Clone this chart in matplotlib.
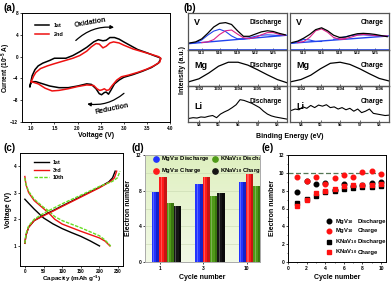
import numpy as np
import matplotlib
matplotlib.use("Agg")
import matplotlib.pyplot as plt
from matplotlib.patches import FancyArrowPatch

plt.rcParams['font.family'] = ['Liberation Sans', 'DejaVu Sans']
plt.rcParams['font.weight'] = 'bold'
plt.rcParams['axes.labelweight'] = 'bold'
plt.rcParams['axes.linewidth'] = 0.7
plt.rcParams['mathtext.default'] = 'regular'

# ---- (a) cyclic voltammetry ----
cv1_v = [0.97, 1.02, 1.08, 1.15, 1.25, 1.4, 1.5, 1.6, 1.75, 1.9, 2.05, 2.2, 2.35, 2.45, 2.55,
         2.62, 2.7, 2.8, 2.9, 3.0, 3.15, 3.3, 3.5, 3.65, 3.78, 3.8,
         3.75, 3.6, 3.4, 3.2, 3.0, 2.9, 2.8, 2.72, 2.67, 2.62, 2.58, 2.52, 2.47, 2.4, 2.3,
         2.2, 2.0, 1.8, 1.6, 1.4, 1.25, 1.1, 1.0, 0.97]
cv1_i = [-5.5, -3.5, -2.4, -1.7, -1.2, -0.7, -0.3, -0.3, -0.3, 0.2, 0.9, 1.7, 2.7, 3.1, 2.9,
         3.0, 3.5, 3.5, 3.2, 2.7, 2.0, 1.3, 0.7, 0.2, -0.2, -0.4,
         -1.2, -2.0, -2.7, -3.3, -3.8, -4.3, -5.0, -6.2, -6.9, -6.5, -6.6, -7.0, -6.8, -5.9, -5.1,
         -5.0, -5.4, -5.7, -5.7, -5.4, -5.0, -4.6, -4.6, -5.5]
cv2_v = [1.0, 1.05, 1.1, 1.2, 1.35, 1.5, 1.7, 1.9, 2.05, 2.2, 2.3, 2.4, 2.47, 2.55, 2.62,
         2.7, 2.78, 2.9, 3.0, 3.2, 3.4, 3.6, 3.75, 3.8, 3.78,
         3.65, 3.5, 3.3, 3.1, 2.95, 2.85, 2.75, 2.68, 2.63, 2.58, 2.53, 2.48, 2.42, 2.35,
         2.2, 2.0, 1.8, 1.6, 1.45, 1.3, 1.15, 1.0]
cv2_i = [-4.6, -3.6, -2.9, -2.2, -1.7, -1.3, -0.8, -0.3, 0.2, 1.0, 1.8, 2.4, 2.3, 1.6, 1.9,
         2.5, 2.7, 2.5, 2.1, 1.4, 0.9, 0.4, 0.0, -0.3, -1.0,
         -1.7, -2.3, -2.9, -3.4, -3.7, -4.3, -5.3, -6.1, -6.2, -5.9, -6.1, -6.2, -5.9, -5.3,
         -5.2, -5.5, -5.9, -6.2, -6.3, -5.8, -5.0, -4.6]

# ---- (b) XPS spectra ----
v_x = [511, 512, 513, 514, 515, 516, 517, 518, 519, 520, 521, 522, 523, 524, 525, 526, 527]
v_base_x = [510.7, 527.3]
v_dis_base = [0.17, 0.40]
v_dis_total = [0.19, 0.22, 0.30, 0.45, 0.62, 0.72, 0.74, 0.69, 0.52, 0.37, 0.37, 0.43, 0.49,
               0.52, 0.50, 0.45, 0.41]
v_dis_blue1_x = [511, 512, 513, 514, 515, 516, 517, 518, 519, 520, 521]
v_dis_blue1 = [0.18, 0.20, 0.27, 0.40, 0.51, 0.56, 0.50, 0.38, 0.30, 0.30, 0.31]
v_dis_pink1_x = [513, 514, 515, 516, 517, 518, 519, 520, 521]
v_dis_pink1 = [0.20, 0.22, 0.28, 0.42, 0.52, 0.54, 0.43, 0.33, 0.31]
v_dis_blue2_x = [519, 520, 521, 522, 523, 524, 525, 526, 527]
v_dis_blue2 = [0.29, 0.30, 0.33, 0.37, 0.40, 0.41, 0.40, 0.39, 0.40]
v_dis_pink2_x = [521, 522, 523, 524, 525, 526, 527]
v_dis_pink2 = [0.31, 0.34, 0.41, 0.47, 0.47, 0.42, 0.40]

v_ch_base = [0.18, 0.38]
v_ch_total = [0.20, 0.24, 0.32, 0.42, 0.55, 0.60, 0.52, 0.40, 0.34, 0.35, 0.40, 0.44, 0.45,
              0.44, 0.42, 0.39, 0.36]
v_ch_blue1_x = [511, 512, 513, 514, 515, 516]
v_ch_blue1 = [0.18, 0.22, 0.29, 0.27, 0.23, 0.23]
v_ch_pink1_x = [512, 513, 514, 515, 516, 517, 518, 519, 520]
v_ch_pink1 = [0.20, 0.23, 0.34, 0.52, 0.57, 0.48, 0.34, 0.29, 0.30]
v_ch_blue2_x = [518, 519, 520, 521, 522, 523, 524, 525, 526, 527]
v_ch_blue2 = [0.29, 0.32, 0.36, 0.39, 0.41, 0.41, 0.40, 0.39, 0.38, 0.38]
v_ch_pink2_x = [519, 520, 521, 522, 523, 524, 525, 526, 527]
v_ch_pink2 = [0.29, 0.31, 0.35, 0.40, 0.42, 0.41, 0.39, 0.38, 0.38]

mg_x = [1301.5, 1302.0, 1302.5, 1303.0, 1303.5, 1304.0, 1304.5, 1305.0, 1305.5, 1306.0, 1306.5]
mg_dis = [0.12, 0.20, 0.36, 0.55, 0.66, 0.66, 0.58, 0.45, 0.31, 0.18, 0.09]
mg_ch = [0.12, 0.18, 0.30, 0.48, 0.63, 0.66, 0.60, 0.48, 0.34, 0.21, 0.14]

li_x = [53.5, 53.7, 53.9, 54.1, 54.3, 54.5, 54.7, 54.9, 55.1, 55.3, 55.5, 55.7, 55.9, 56.1,
        56.3, 56.5, 56.7, 56.9, 57.1, 57.3, 57.5, 57.7, 57.9, 58.1, 58.3, 58.5]
li_dis = [0.10, 0.12, 0.11, 0.14, 0.13, 0.16, 0.18, 0.12, 0.22, 0.28, 0.33, 0.40, 0.48, 0.62,
          0.60, 0.56, 0.52, 0.46, 0.40, 0.30, 0.22, 0.17, 0.14, 0.12, 0.10, 0.08]
li_ch = [0.32, 0.36, 0.34, 0.42, 0.38, 0.46, 0.40, 0.47, 0.44, 0.48, 0.40, 0.42, 0.36, 0.40,
         0.34, 0.38, 0.30, 0.36, 0.26, 0.30, 0.36, 0.24, 0.22, 0.20, 0.18, 0.19]

# ---- (c) charge / discharge profiles ----
c1_dis_x = [0, 10, 25, 50, 75, 100, 125, 150, 175, 200]
c1_dis_y = [2.75, 2.6, 2.38, 2.05, 1.83, 1.65, 1.5, 1.36, 1.19, 1.0]
c1_ch_x = [0, 3, 10, 25, 50, 75, 100, 150, 200, 225, 235, 242]
c1_ch_y = [1.1, 1.4, 1.7, 1.95, 2.15, 2.32, 2.5, 2.85, 3.2, 3.4, 3.55, 3.8]
c3_dis_x = [0, 3, 10, 25, 50, 65, 80, 100, 150, 200, 215, 228]
c3_dis_y = [3.6, 3.3, 3.0, 2.7, 2.4, 2.22, 2.0, 1.82, 1.55, 1.3, 1.18, 1.0]
c3_ch_x = [0, 3, 10, 25, 50, 75, 100, 150, 200, 230, 240, 246]
c3_ch_y = [1.1, 1.4, 1.7, 1.95, 2.13, 2.3, 2.48, 2.83, 3.18, 3.42, 3.55, 3.8]
c10_dis_x = [0, 3, 10, 25, 50, 65, 80, 100, 150, 180, 200, 215, 230]
c10_dis_y = [3.55, 3.3, 3.05, 2.75, 2.45, 2.3, 2.1, 1.95, 1.68, 1.5, 1.38, 1.22, 1.0]
c10_ch_x = [0, 3, 10, 25, 50, 75, 100, 150, 200, 235, 248, 255]
c10_ch_y = [1.1, 1.45, 1.75, 2.0, 2.22, 2.4, 2.58, 2.9, 3.23, 3.42, 3.55, 3.8]

# ---- (d)/(e) electron numbers ----
cycles = [1, 2, 3, 4, 5, 6, 7, 8, 9, 10]
mg_discharge = [7.8, 9.1, 8.8, 8.9, 8.1, 8.75, 8.55, 8.6, 8.9, 9.0]
mg_charge = [9.5, 9.05, 9.55, 8.8, 9.4, 9.75, 9.55, 10.1, 10.2, 9.9]
kna_discharge = [6.6, 7.05, 7.4, 7.8, 8.0, 8.15, 8.35, 8.4, 8.4, 8.5]
kna_charge = [6.3, 7.0, 7.7, 8.0, 8.2, 8.5, 8.6, 8.6, 8.6, 8.7]
bar_cycles = ['1', '3', '10']
bar_idx = [0, 2, 9]

W, H = 392, 283


def box(l, t, r, b):
    return [l / W, 1 - b / H, (r - l) / W, (b - t) / H]


def style(ax, fs=3.5):
    ax.tick_params(labelsize=fs, length=1.5, width=0.5, pad=1.2, direction='out')
    for lab in ax.get_xticklabels() + ax.get_yticklabels():
        lab.set_fontweight('bold')


fig = plt.figure(figsize=(W / 100, H / 100), dpi=100)

# (a)
ax = fig.add_axes(box(22, 13, 170, 122))
ax.plot(cv1_v, cv1_i, color='black', lw=1.1)
ax.plot(cv2_v, cv2_i, color='#ee1111', lw=1.1)
ax.set_xlim(0.8, 4.0)
ax.set_ylim(-12, 8)
ax.set_xticks([1.0, 1.5, 2.0, 2.5, 3.0, 3.5, 4.0])
ax.set_yticks([-12, -8, -4, 0, 4, 8])
style(ax, fs=3.3)
ax.set_xlabel('Voltage (V)', fontsize=5, labelpad=1)
ax.set_ylabel('Current (10$^{-5}$ A)', fontsize=4.7, labelpad=1)
ax.yaxis.set_label_coords(-0.06, 0.5)
ax.legend(handles=ax.lines, labels=['1st', '2nd'], loc='upper left', bbox_to_anchor=(0.06, 0.94),
          frameon=False, fontsize=4, handlelength=2.6, labelspacing=0.6, borderpad=0.2)
ax.add_patch(FancyArrowPatch((1.92, 2.6), (2.85, 5.3), connectionstyle='arc3,rad=-0.25',
                             arrowstyle='-|>', mutation_scale=5, lw=0.9, color='black'))
ax.add_patch(FancyArrowPatch((3.05, -6.4), (2.15, -8.6), connectionstyle='arc3,rad=-0.25',
                             arrowstyle='-|>', mutation_scale=5, lw=0.9, color='black'))
ax.text(2.27, 6.3, 'Oxidation', fontsize=5, rotation=10, ha='center', va='center')
ax.text(2.75, -9.6, 'Reduction', fontsize=5, rotation=12, ha='center', va='center')
fig.text(3 / W, 1 - 8 / H, '(a)', fontsize=7, fontweight='bold', va='center')

# (b)
cols = [(188, 287, 'Discharge', v_dis_base, v_dis_total, v_dis_blue1_x, v_dis_blue1,
         v_dis_pink1_x, v_dis_pink1, v_dis_blue2_x, v_dis_blue2, v_dis_pink2_x, v_dis_pink2,
         mg_dis, li_dis),
        (290, 389, 'Charge', v_ch_base, v_ch_total, v_ch_blue1_x, v_ch_blue1,
         v_ch_pink1_x, v_ch_pink1, v_ch_blue2_x, v_ch_blue2, v_ch_pink2_x, v_ch_pink2,
         mg_ch, li_ch)]
rows = [(13, 50), (50, 86), (86, 122)]
for (l, r, state, base, tot, b1x, b1, p1x, p1, b2x, b2, p2x, p2, mg, li) in cols:
    axv = fig.add_axes(box(l, rows[0][0], r, rows[0][1]))
    axv.plot(v_base_x, base, color='#2244ee', lw=1.0)
    axv.plot(b1x, b1, color='#2244ee', lw=0.8)
    axv.plot(b2x, b2, color='#2244ee', lw=0.8)
    axv.plot(p1x, p1, color='#dd2288', lw=0.8)
    axv.plot(p2x, p2, color='#dd2288', lw=0.8)
    axv.plot(v_x, tot, color='black', lw=0.9)
    axv.axhline(0.0, color='#2244ee', lw=1.2)
    axv.set_xlim(510.7, 527.3)
    axv.set_ylim(0, 1)
    axv.set_xticks([513, 516, 519, 522, 525])
    axv.set_yticks([])
    axv.text(0.06, 0.74, 'V', transform=axv.transAxes, fontsize=6.5, va='center')
    axv.text(0.95, 0.74, state, transform=axv.transAxes, fontsize=4.8, ha='right', va='center')

    axm = fig.add_axes(box(l, rows[1][0], r, rows[1][1]))
    axm.plot(mg_x, mg, color='black', lw=0.9)
    axm.set_xlim(1301.44, 1306.5)
    axm.set_ylim(0, 1)
    axm.set_xticks([1302, 1303, 1304, 1305, 1306])
    axm.set_yticks([])
    axm.text(0.06, 0.56, 'Mg', transform=axm.transAxes, fontsize=6.5, va='center')
    axm.text(0.95, 0.56, state, transform=axm.transAxes, fontsize=4.8, ha='right', va='center')

    axl = fig.add_axes(box(l, rows[2][0], r, rows[2][1]))
    axl.plot(li_x, li, color='black', lw=0.8)
    axl.set_xlim(53.44, 58.5)
    axl.set_ylim(0, 1)
    axl.set_xticks([54, 55, 56, 57, 58])
    axl.set_yticks([])
    axl.text(0.06, 0.42, 'Li', transform=axl.transAxes, fontsize=6.5, va='center')
    axl.text(0.95, 0.56, state, transform=axl.transAxes, fontsize=4.8, ha='right', va='center')
    for a in (axv, axm, axl):
        a.tick_params(labelsize=3, length=1.2, width=0.4, pad=0.8, direction='in')
        for s in a.spines.values():
            s.set_color('#555555')
            s.set_linewidth(0.9)
    axv.set_zorder(3)
    axm.set_zorder(2)
    axm.patch.set_alpha(0)
    axl.patch.set_alpha(0)
fig.text(183 / W, 1 - 70 / H, 'Intensity (a.u.)', fontsize=5, rotation=90, ha='center', va='center')
fig.text(290 / W, 1 - 137 / H, 'Binding Energy (eV)', fontsize=5, ha='center', va='center')
fig.text(183 / W, 1 - 8 / H, '(b)', fontsize=7, fontweight='bold', va='center')

# (c)
ax = fig.add_axes(box(20, 153, 123, 266))
ax.plot(c1_dis_x, c1_dis_y, color='black', lw=1.0, label='1st')
ax.plot(c3_dis_x, c3_dis_y, color='#ee1111', lw=1.0, label='3rd')
ax.plot(c10_dis_x, c10_dis_y, color='#66dd22', lw=1.0, ls=(0, (2.5, 1)), label='10th')
ax.plot(c1_ch_x, c1_ch_y, color='black', lw=1.0)
ax.plot(c3_ch_x, c3_ch_y, color='#ee1111', lw=1.0)
ax.plot(c10_ch_x, c10_ch_y, color='#66dd22', lw=1.0, ls=(0, (2.5, 1)))
ax.set_xlim(-13, 263)
ax.set_ylim(0.25, 4.48)
ax.set_xticks([0, 50, 100, 150, 200, 250])
ax.set_yticks([1, 2, 3, 4])
style(ax, fs=3.3)
ax.tick_params(axis='x', pad=0.6)
ax.set_xlabel('Capacity (mAh g$^{-1}$)', fontsize=4.6, labelpad=0.5)
ax.xaxis.set_label_coords(0.5, -0.07)
ax.set_ylabel('Voltage (V)', fontsize=5, labelpad=1)
ax.legend(loc='upper left', bbox_to_anchor=(0.1, 0.97), frameon=False, fontsize=4,
          handlelength=2.6, labelspacing=0.45, borderpad=0.2)
fig.text(4 / W, 1 - 148 / H, '(c)', fontsize=7, fontweight='bold', va='center')

# (d)
ax = fig.add_axes(box(145, 155, 260, 262))
grad = np.linspace(0, 1, 50).reshape(-1, 1)
ax.imshow(grad, extent=(-0.5, 2.15, 0, 12.0), aspect='auto', origin='lower',
          cmap=matplotlib.colors.LinearSegmentedColormap.from_list('g', ['#f2f9e6', '#dff0c0']),
          zorder=0)
for yv in [2, 4, 6, 8, 10]:
    ax.axhline(yv, color='#c8d8b0', lw=0.4, zorder=1)
bar_sets = [(mg_discharge, '#2233ff', '#0a1499'), (mg_charge, '#ff1a1a', '#991010'),
            (kna_discharge, '#4f9a18', '#2c5a0a'), (kna_charge, '#151515', '#000000')]
w = 0.17
xg = np.arange(len(bar_cycles))
for k, (vals, col, dark) in enumerate(bar_sets):
    ys = [vals[i] for i in bar_idx]
    xs = xg + (k - 1.5) * w
    ax.bar(xs, ys, width=w, color=col, zorder=3)
    ax.bar(xs + w * 0.3, ys, width=w * 0.4, color=dark, alpha=0.55, zorder=4)
    ax.bar(xs - w * 0.25, ys, width=w * 0.15, color='white', alpha=0.25, zorder=4)
ax.set_xlim(-0.5, 2.15)
ax.set_ylim(0, 12.0)
ax.set_xticks(xg - 0.16)
ax.set_xticklabels(bar_cycles)
ax.set_yticks([0, 4, 8, 12])
style(ax)
for s in ax.spines.values():
    s.set_color('#aaaaaa')
ax.set_xlabel('Cycle number', fontsize=5, labelpad=2)
ax.set_ylabel('Electron number', fontsize=5, labelpad=3)
leg = [('MgV$_{10}$ Discharge', '#2233ff', 0.096, 0.965), ('KNaV$_{10}$ Discharge', '#4f9a18', 0.61, 0.965),
       ('MgV$_{10}$ Charge', '#ff1a1a', 0.096, 0.855), ('KNaV$_{10}$ Charge', '#151515', 0.61, 0.855)]
for lab, col, lx, ly in leg:
    ax.plot([lx], [ly], 'o', color=col, ms=3.8, transform=ax.transAxes, zorder=6, clip_on=False)
    ax.text(lx + 0.045, ly, lab, transform=ax.transAxes, fontsize=4.2, va='center', zorder=6,
            clip_on=True)
fig.text(131 / W, 1 - 148 / H, '(d)', fontsize=7, fontweight='bold', va='center')

# (e)
ax = fig.add_axes(box(288, 155, 386, 262))
ax.axhline(10, color='#557755', lw=0.9, ls=(0, (4, 2)))
ax.plot(cycles, mg_discharge, 'o', color='black', ms=3.3)
ax.plot(cycles, mg_charge, 'o', color='#ff1111', ms=3.3)
ax.plot(cycles, kna_discharge, 's', color='black', ms=3.0)
ax.plot(cycles, kna_charge, 's', color='#ff1111', ms=3.0)
ax.set_xlim(0, 10.53)
ax.set_ylim(0, 12)
ax.set_xticks([0, 2, 4, 6, 8, 10])
ax.set_xticks([1, 3, 5, 7, 9], minor=True)
ax.set_yticks([0, 2, 4, 6, 8, 10, 12])
ax.set_yticks([1, 3, 5, 7, 9, 11], minor=True)
style(ax)
ax.tick_params(which='minor', length=1, width=0.4)
ax.set_xlabel('Cycle number', fontsize=5, labelpad=2)
ax.set_ylabel('Electron number', fontsize=5, labelpad=2)
leg_e = [('o', 'black', 'MgV$_{10}$', 'Discharge', 0.383), ('o', '#ff1111', 'MgV$_{10}$', 'Charge', 0.293),
         ('s', 'black', 'KNaV$_{10}$', 'Discharge', 0.19), ('s', '#ff1111', 'KNaV$_{10}$', 'Charge', 0.093)]
for mk, col, name, state, ly in leg_e:
    ax.plot([0.415], [ly], mk, color=col, ms=3.3, transform=ax.transAxes)
    ax.text(0.48, ly, name, transform=ax.transAxes, fontsize=4.2, va='center')
    ax.text(0.71, ly, state, transform=ax.transAxes, fontsize=4.2, va='center')
fig.text(262 / W, 1 - 148 / H, '(e)', fontsize=7, fontweight='bold', va='center')

fig.savefig('out.png', dpi=100)
